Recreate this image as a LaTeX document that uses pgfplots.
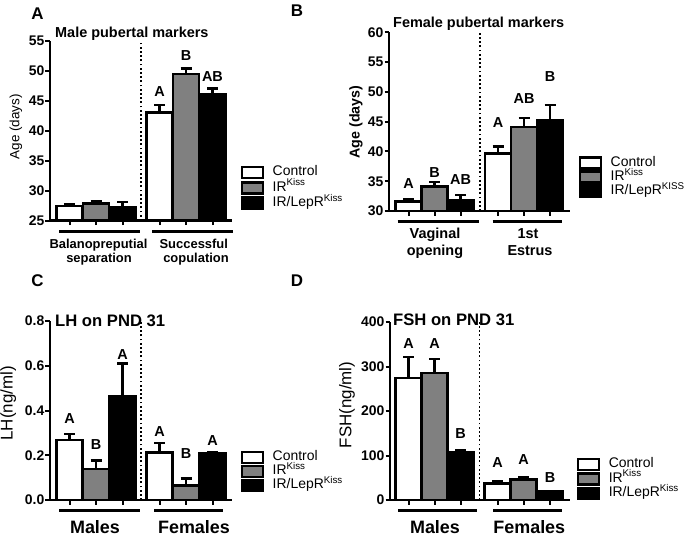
\documentclass[border=0pt]{standalone}
\usepackage{pgfplots}
\pgfplotsset{compat=1.18}
\usepackage{fontspec}
\setmainfont{Liberation Sans}
\newcommand{\fs}[1]{\fontsize{#1}{#1}\selectfont}
\definecolor{bargray}{HTML}{808080}
\tikzset{
  dotsep/.style={line width=1.8bp, dash pattern=on 1.8bp off 2.4bp},
  sig/.style={font=\bfseries\fs{14.5}},
}
\begin{document}
\begin{tikzpicture}
\useasboundingbox (0,0) rectangle (689bp,-536bp);
\pgfplotsset{
  panel/.style={
    scale only axis, clip=false,
    axis x line*=bottom, axis y line*=left,
    axis line style={line width=2.5bp, black, -},
    tick align=outside, major tick length=4.5bp,
    major tick style={line width=2bp, black},
    xticklabels={},
    yticklabel={\textbf{\pgfmathprintnumber{\tick}}},
    yticklabel style={font=\bfseries\boldmath\fs{14}, inner sep=1bp},
    /pgf/number format/assume math mode=true,
    legend cell align=left,
    legend style={draw=none, fill=none, inner sep=0pt, outer sep=0pt, anchor=north west,
      font=\fs{14}, nodes={text height=9bp, text depth=2.5bp, inner sep=1bp},
      /tikz/column sep=7.5bp, row sep=1.8bp},
  },
  bstyle/.style={ybar, bar width=26, bar shift=0pt, draw=black, line width=2.6bp, #1,
    legend image code/.code={\draw[##1, line width=2.5bp] (0bp,-5.5bp) rectangle (21bp,5.5bp);},
    error bars/.cd, y dir=plus, y explicit,
    error bar style={line width=2.4bp, black, solid},
    error mark options={rotate=90, line width=2.4bp, mark size=5.5bp, black, solid}},
}
% ---------------- Panel A ----------------
\begin{axis}[panel, at={(50bp,-220.7bp)}, anchor=south west, width=182bp, height=180bp,
  xmin=50, xmax=232, ymin=25, ymax=55, ytick={25,30,35,40,45,50,55},
  xtick={69.5,96,122.5,159.5,186,212.5},
  ylabel={Age (days)},
  every axis y label/.style={at={(axis description cs:-0.187,0.522)}, rotate=90, anchor=center, font=\fs{13.5}},
  legend style={at={(axis description cs:1.048,0.305)}}]
\addplot[bstyle={fill=white}] coordinates {(69.5,27.45) +- (0,0.35) (159.5,43.0) +- (0,1.3)};
\addlegendentry{Control}
\addplot[bstyle={fill=bargray}] coordinates {(96,27.9) +- (0,0.4) (186,49.45) +- (0,0.95)};
\addlegendentry{IR\textsuperscript{Kiss}}
\addplot[bstyle={fill=black}] coordinates {(122.5,27.2) +- (0,0.87) (212.5,46.15) +- (0,0.9)};
\addlegendentry{IR/LepR\textsuperscript{Kiss}}
\draw[dotsep] (axis cs:140.7,25) -- (axis cs:140.7,55);
\node[sig] at (axis cs:159.5,46.5) {A};
\node[sig] at (axis cs:186,52.6) {B};
\node[sig] at (axis cs:212.5,49.1) {AB};
\end{axis}
% ---------------- Panel B ----------------
\begin{axis}[panel, at={(389bp,-211bp)}, anchor=south west, width=181bp, height=178.7bp,
  xmin=389, xmax=570, ymin=30, ymax=60, ytick={30,35,40,45,50,55,60},
  xtick={408.5,434.5,460.5,498,524,550},
  ylabel={Age (days)},
  every axis y label/.style={at={(axis description cs:-0.182,0.498)}, rotate=90, anchor=center, font=\bfseries\fs{14.3}},
  legend style={at={(axis description cs:1.048,0.305)}, row sep=0.5bp}]
\addplot[bstyle={fill=white}] coordinates {(408.5,31.6) +- (0,0.4) (498,39.7) +- (0,1.1)};
\addlegendentry{Control}
\addplot[bstyle={fill=bargray}] coordinates {(434.5,34.1) +- (0,0.8) (524,44.1) +- (0,1.55)};
\addlegendentry{IR\textsuperscript{Kiss}}
\addplot[bstyle={fill=black}] coordinates {(460.5,31.75) +- (0,0.95) (550,45.2) +- (0,2.6)};
\addlegendentry{IR/LepR\textsuperscript{KISS}}
\draw[dotsep] (axis cs:480,30) -- (axis cs:480,60);
\node[sig] at (axis cs:408.5,34.65) {A};
\node[sig] at (axis cs:434.5,36.4) {B};
\node[sig] at (axis cs:460.5,35.2) {AB};
\node[sig] at (axis cs:498,44.9) {A};
\node[sig] at (axis cs:524,48.8) {AB};
\node[sig] at (axis cs:550,52.5) {B};
\end{axis}
% ---------------- Panel C ----------------
\begin{axis}[panel, at={(50bp,-500bp)}, anchor=south west, width=182bp, height=179bp,
  xmin=50, xmax=232, ymin=0, ymax=0.8, ytick={0,0.2,0.4,0.6,0.8},
  yticklabel style={/pgf/number format/.cd, fixed, fixed zerofill, precision=1},
  xtick={69.5,96,122.5,159.5,186,212.5},
  ylabel={LH(ng/ml)},
  every axis y label/.style={at={(axis description cs:-0.23,0.54)}, rotate=90, anchor=center, font=\fs{17}},
  legend style={at={(axis description cs:1.048,0.275)}, row sep=0.5bp}]
\addplot[bstyle={fill=white}] coordinates {(69.5,0.268) +- (0,0.027) (159.5,0.213) +- (0,0.043)};
\addlegendentry{Control}
\addplot[bstyle={fill=bargray}] coordinates {(96,0.138) +- (0,0.038) (186,0.066) +- (0,0.031)};
\addlegendentry{IR\textsuperscript{Kiss}}
\addplot[bstyle={fill=black}] coordinates {(122.5,0.462) +- (0,0.148) (212.5,0.209) +- (0,0.004)};
\addlegendentry{IR/LepR\textsuperscript{Kiss}}
\draw[dotsep] (axis cs:141,0) -- (axis cs:141,0.8);
\node[sig] at (axis cs:69.5,0.365) {A};
\node[sig] at (axis cs:96,0.246) {B};
\node[sig] at (axis cs:122.5,0.648) {A};
\node[sig] at (axis cs:159.5,0.305) {A};
\node[sig] at (axis cs:186,0.209) {B};
\node[sig] at (axis cs:212.5,0.268) {A};
\end{axis}
% ---------------- Panel D ----------------
\begin{axis}[panel, at={(390bp,-500bp)}, anchor=south west, width=180bp, height=178bp,
  xmin=390, xmax=570, ymin=0, ymax=400, ytick={0,100,200,300,400},
  xtick={408.5,434.5,460.5,497.5,523.5,550},
  ylabel={FSH(ng/ml)},
  every axis y label/.style={at={(axis description cs:-0.239,0.534)}, rotate=90, anchor=center, font=\fs{17}},
  legend style={at={(axis description cs:1.0375,0.2377)}, row sep=1bp}]
\addplot[bstyle={fill=white}] coordinates {(408.5,274) +- (0,48) (497.5,37.5) +- (0,3.7)};
\addlegendentry{Control}
\addplot[bstyle={fill=bargray}] coordinates {(434.5,285) +- (0,32) (523.5,46) +- (0,4.5)};
\addlegendentry{IR\textsuperscript{Kiss}}
\addplot[bstyle={fill=black}] coordinates {(460.5,108) +- (0,3.7) (550,18.6) +- (0,1.4)};
\addlegendentry{IR/LepR\textsuperscript{Kiss}}
\draw[dotsep] (axis cs:479.5,0) -- (axis cs:479.5,400);
\node[sig] at (axis cs:408.5,352) {A};
\node[sig] at (axis cs:434.5,352) {A};
\node[sig] at (axis cs:460.5,150) {B};
\node[sig] at (axis cs:497.5,84) {A};
\node[sig] at (axis cs:523.5,90) {A};
\node[sig] at (axis cs:550,51) {B};
\end{axis}
% ---------------- Annotations ----------------
\begin{scope}[x=1bp, y=-1bp]
\node[font=\bfseries\fs{17}] at (37.5,14) {A};
\node[font=\bfseries\fs{17}] at (297,11) {B};
\node[font=\bfseries\fs{17}] at (37.5,281) {C};
\node[font=\bfseries\fs{17}] at (297,281) {D};
\node[anchor=base west, inner sep=0pt, font=\bfseries\fs{14.5}] at (55,37.7) {Male pubertal markers};
\node[anchor=base west, inner sep=0pt, font=\bfseries\fs{14.5}] at (393,27.3) {Female pubertal markers};
\node[anchor=base west, inner sep=0pt, font=\bfseries\fs{16.7}] at (55,326) {LH on PND 31};
\node[anchor=base west, inner sep=0pt, font=\bfseries\fs{16.7}] at (393,325) {FSH on PND 31};
\draw[line width=2.7bp] (59.3,231.7) -- (140,231.7);
\draw[line width=2.7bp] (152.3,231.7) -- (233.3,231.7);
\draw[line width=2.7bp] (397.7,221.7) -- (479,221.7);
\draw[line width=2.7bp] (492.7,221.7) -- (561.7,221.7);
\draw[line width=2.7bp] (59.3,510.7) -- (140,510.7);
\draw[line width=2.7bp] (154.3,510.7) -- (222.7,510.7);
\draw[line width=2.7bp] (398.3,510.7) -- (476.7,510.7);
\draw[line width=2.7bp] (493.3,510.7) -- (561.7,510.7);
\begin{scope}[every node/.style={anchor=base, inner sep=0pt}]
\node[font=\bfseries\fs{13}] at (98.5,248) {Balanopreputial};
\node[font=\bfseries\fs{13}] at (99,262.5) {separation};
\node[font=\bfseries\fs{13}] at (193.8,248) {Successful};
\node[font=\bfseries\fs{13}] at (196,262.5) {copulation};
\node[font=\bfseries\fs{14.5}] at (435,238.3) {Vaginal};
\node[font=\bfseries\fs{14.5}] at (435,255) {opening};
\node[font=\bfseries\fs{14.5}] at (528,238.3) {1st};
\node[font=\bfseries\fs{14.5}] at (530,255) {Estrus};
\node[font=\bfseries\fs{18}] at (95,533) {Males};
\node[font=\bfseries\fs{18}] at (194,533) {Females};
\node[font=\bfseries\fs{18}] at (435,533) {Males};
\node[font=\bfseries\fs{18}] at (529.3,533) {Females};
\end{scope}
\end{scope}
\end{tikzpicture}
\end{document}
